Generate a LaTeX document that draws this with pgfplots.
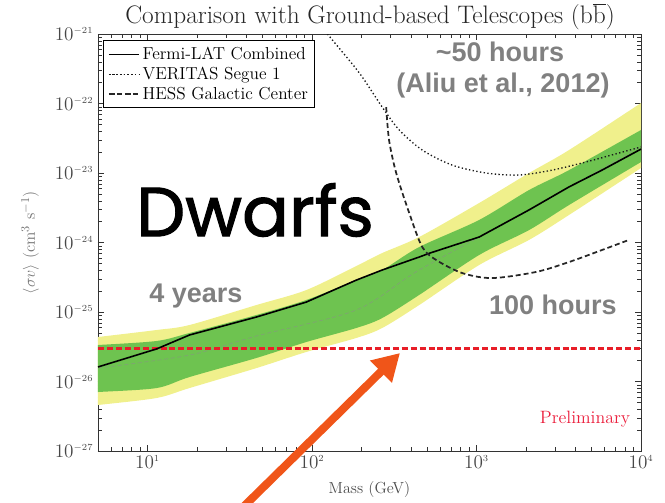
\documentclass[border=0pt]{standalone}
\usepackage{fontspec}
\usepackage{pgfplots}
\pgfplotsset{compat=1.18}
\usetikzlibrary{arrows.meta}
\newfontfamily\annfont{Liberation Sans}
\newfontfamily\handfont[FakeBold=1.5]{Poppins}

\definecolor{bandgreen}{RGB}{110,195,80}
\definecolor{bandyellow}{RGB}{240,240,140}
\definecolor{limitred}{RGB}{232,30,40}
\definecolor{arroworange}{RGB}{240,85,25}
\definecolor{anngrey}{RGB}{128,128,128}
\definecolor{prelimred}{RGB}{235,30,60}

\begin{document}
\begin{tikzpicture}
% fixed page frame (1 px = 0.75 pt)
\path[use as bounding box] (-73.5pt,-39pt) rectangle (425.25pt,338.25pt);
\begin{axis}[
  scale only axis,
  width=407.25pt, height=312.75pt,
  xmode=log, ymode=log,
  xmin=5, xmax=1e4, ymin=1e-27, ymax=1e-21,
  axis line style={black!80, line width=0.7pt},
  tick style={black!80},
  tick align=inside,
  log number format basis/.code 2 args={$#1^{\scriptscriptstyle\pgfmathprintnumber[fixed,precision=0]{#2}}$},
  ticklabel style={font=\fontsize{14}{14}\selectfont, text=black!72},
  xlabel={Mass (GeV)},
  xlabel style={at={(0.5,-0.093)}, anchor=center, font=\fontsize{12}{12}\selectfont, text=black!70},
  ylabel={$\langle\sigma v\rangle$ $(\mathrm{cm}^{3}\ \mathrm{s}^{-1})$},
  ylabel style={at={(-0.125,0.5)}, anchor=center, font=\fontsize{12.3}{13}\selectfont, text=black!55},
  legend style={at={(rel axis cs:0.01,0.985)}, anchor=north west,
    font=\fontsize{13}{13.5}\selectfont, draw=black, line width=0.7pt,
    row sep=0pt, inner sep=3pt},
  legend cell align=left,
  legend image code/.code={\draw[#1] plot coordinates {(0cm,0cm) (0.8cm,0cm)};},
]
% 2-sigma expected band (upper edge, then lower edge backwards)
\addplot[fill=bandyellow, draw=none, smooth, forget plot] coordinates {
  (4,4.1e-26) (5,4.37e-26) (11.34,5.51e-26) (17.99,6.50e-26) (45.9,1.26e-25)
  (92.3,2.07e-25) (185.8,4.59e-25) (267.2,7.06e-25) (448.2,1.20e-24)
  (1037,3.70e-24) (2086,1.00e-23) (3649,2.14e-23) (10000,1.016e-22) (12500,1.43e-22)
  (12500,1.66e-23) (10000,1.18e-23) (3649,2.49e-24) (2086,1.09e-24) (1037,4.74e-25)
  (448.2,1.26e-25) (267.2,5.89e-26) (185.8,4.23e-26) (92.3,2.66e-26)
  (45.9,1.56e-26) (17.99,8.05e-27) (11.34,5.79e-27) (5,4.59e-27) (4,4.3e-27)
} -- cycle;
% 1-sigma expected band
\addplot[fill=bandgreen, draw=none, smooth, forget plot] coordinates {
  (4,3.23e-26) (5,3.35e-26) (11.34,3.83e-26) (17.99,4.99e-26) (45.9,9.06e-26)
  (92.3,1.49e-25) (185.8,2.88e-25) (267.2,4.02e-25) (448.2,8.61e-25)
  (1037,2.11e-24) (2086,5.69e-24) (3649,1.10e-23) (10000,4.16e-23) (12500,5.6e-23)
  (12500,1.97e-23) (10000,1.44e-23) (3649,3.46e-24) (2086,1.51e-24) (1037,6.61e-25)
  (448.2,1.76e-25) (267.2,8.20e-26) (185.8,5.89e-26) (92.3,3.70e-26)
  (45.9,2.18e-26) (17.99,1.16e-26) (11.34,8.05e-27) (5,7.06e-27) (4,6.8e-27)
} -- cycle;
% expected median
\addplot[black!45, line width=0.5pt, dash pattern=on 3pt off 2pt, opacity=0.6, smooth, forget plot] coordinates {
  (5,1.56e-26) (17.99,2.40e-26) (45.9,4.52e-26) (185.8,1.07e-25)
  (448.2,4.02e-25) (2086,2.94e-24) (10000,2.44e-23)
};
% thermal relic cross section
\addplot[limitred, line width=1.8pt, dash pattern=on 4.5pt off 2.2pt, forget plot] coordinates {
  (5,3e-26) (10000,3e-26)
};
% Fermi-LAT combined dwarf limit
\addplot[black, line width=1.2pt] coordinates {
  (5,1.62e-26) (11.34,2.94e-26) (18,4.67e-26) (45.9,8.47e-26)
  (92.3,1.39e-25) (186,2.88e-25) (267,4.02e-25) (448,6.18e-25)
  (522,7.06e-25) (1038,1.2e-24) (2084,2.94e-24) (3646,6.3e-24)
  (5790,1.1e-23) (10000,2.21e-23)
};
\addlegendentry{Fermi-LAT Combined}
% VERITAS Segue 1
\addplot[black!90, line width=1pt, dash pattern=on 1pt off 1.8pt, smooth] coordinates {
  (124,1e-21) (133,8.2e-22) (194,2.75e-22) (267,8.9e-23) (339,4.16e-23)
  (468,2.14e-23) (711,1.30e-23) (1144,1.0e-23) (1814,9.35e-24)
  (2877,1.10e-23) (4627,1.44e-23) (7340,1.94e-23) (10000,2.37e-23)
};
\addlegendentry{VERITAS Segue 1}
% H.E.S.S. Galactic Center
\addplot[black!85, line width=1.3pt, dash pattern=on 3.75pt off 2.25pt, smooth, tension=0.5] coordinates {
  (282.5,8.9e-23) (294,2.98e-23) (325,1.0e-23) (390,2.65e-24)
  (468,8.6e-25) (569,5.6e-25) (818,3.64e-25) (1245,3.08e-25)
  (2300,3.77e-25) (3650,5.24e-25) (5790,7.8e-25) (8450,1.09e-24)
};
\addlegendentry{HESS Galactic Center}
\end{axis}
% title and annotations, placed in pixel units of the page frame
\begin{scope}[shift={(-73.5pt,338.25pt)}, x=0.75pt, y=-0.75pt]
  \node[text=black!85, font=\fontsize{19}{20}\selectfont, anchor=base] at (370,24) {Comparison with Ground-based Telescopes (b$\overline{\mathrm{b}}$)};
  \node[text=anngrey, font=\annfont\bfseries\fontsize{20.25}{22}\selectfont] at (500,52) {\textasciitilde 50 hours};
  \node[text=anngrey, font=\annfont\bfseries\fontsize{20.25}{22}\selectfont] at (503,86) {(Aliu et al., 2012)};
  \node[text=anngrey, font=\annfont\bfseries\fontsize{20.25}{22}\selectfont] at (196,296) {4 years};
  \node[text=anngrey, font=\annfont\bfseries\fontsize{20.25}{22}\selectfont] at (553,305) {100 hours};
  \node[text=black, font=\handfont\fontsize{52}{56}\selectfont] at (255,210) {Dwarfs};
  \node[text=prelimred, font=\fontsize{13.4}{14}\selectfont] at (585,419) {Preliminary};
  \draw[arroworange, line width=6pt, -{Triangle[length=20pt,width=22pt]}] (230,520) -- (400,353);
\end{scope}
\end{tikzpicture}
\end{document}
